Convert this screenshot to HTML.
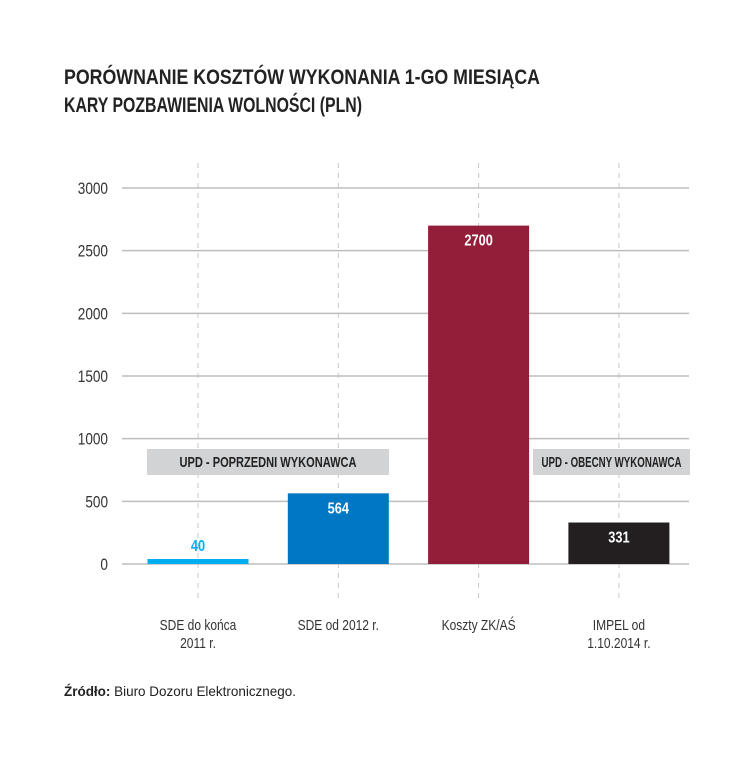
<!DOCTYPE html>
<html><head><meta charset="utf-8"><style>
body{margin:0;background:#fff;width:749px;height:760px;overflow:hidden;font-family:"Liberation Sans Narrow","Liberation Sans",sans-serif}
svg text{font-family:"Liberation Sans Narrow","Liberation Sans",sans-serif}
</style></head><body>
<svg width="749" height="760">
<text x="64" y="84" font-size="21" font-weight="bold" fill="#222" textLength="476" lengthAdjust="spacingAndGlyphs">PORÓWNANIE KOSZTÓW WYKONANIA 1-GO MIESIĄCA</text>
<text x="64" y="112" font-size="21" font-weight="bold" fill="#222" textLength="298" lengthAdjust="spacingAndGlyphs">KARY POZBAWIENIA WOLNOŚCI  (PLN)</text>
<g id="grid"></g><g id="bars"></g>
<text x="64" y="696" font-size="14" fill="#222" textLength="232" lengthAdjust="spacingAndGlyphs"><tspan font-weight="bold">Źródło:</tspan> Biuro Dozoru Elektronicznego.</text>
</svg>
<script>
const categories=[["SDE do końca","2011 r."],["SDE od 2012 r."],["Koszty ZK/AŚ"],["IMPEL od","1.10.2014 r."]];
const values=[40,564,2700,331];
const valueLabels=["40","564","2700","331"];
const barColors=["#00aeef","#0077c2","#921e39","#231f20"];
const ticks=[0,500,1000,1500,2000,2500,3000];
const NS="http://www.w3.org/2000/svg";
const y0=564,y1=188,yMax=3000;
const y=v=>y0-(y0-y1)*v/yMax;
const cx=i=>198+i*140.3;
const bw=101;
const SX=0.8;
const g=document.getElementById('grid'),b=document.getElementById('bars');
function mk(p,tag,a){const e=document.createElementNS(NS,tag);for(const k in a)e.setAttribute(k,a[k]);p.appendChild(e);return e;}
function txt(p,x,yy,s,a){const t=mk(p,'text',Object.assign({x:0,y:0,transform:`translate(${x},${yy}) scale(${SX},1)`},a));t.textContent=s;return t;}
categories.forEach((c,i)=>{
 const l=mk(g,'line',{x1:cx(i),x2:cx(i),y1:163,y2:603,stroke:'#c8c8c8','stroke-dasharray':'5,5'});
 
 
 c.forEach((s,j)=>{const t=txt(g,cx(i),630+j*18,s,{'font-size':15,'text-anchor':'middle',fill:'#333'});
 
 });
});
ticks.forEach(v=>{
 const l=mk(g,'line',{x1:122,x2:689,y1:y(v),y2:y(v),stroke:'#bdbdbd','stroke-width':1.5});
 
 
 const t=txt(g,108,y(v)+6,String(v),{'font-size':17,'text-anchor':'end',fill:'#333'});
 
 
});
[[147,389,"UPD - POPRZEDNI WYKONAWCA",177],[533,690,"UPD - OBECNY WYKONAWCA",140]].forEach(([a,z,s,w])=>{
 const r=mk(g,'rect',{x:a,y:449,width:z-a,height:26,fill:'#d2d3d5'});
 
 
 const t=mk(g,'text',{x:(a+z)/2,y:467,'font-size':15,'font-weight':'bold','text-anchor':'middle',fill:'#222',textLength:w,lengthAdjust:'spacingAndGlyphs'});t.textContent=s;
 
 
});
values.forEach((v,i)=>{
 const r=mk(b,'rect',{x:cx(i)-bw/2,y:y(v),width:bw,height:y0-y(v),fill:barColors[i]});
 
 
 const inside=(y0-y(v))>30;
 const t=txt(b,cx(i),inside?y(v)+20:y(v)-8,valueLabels[i],{'font-size':16,'font-weight':'bold','text-anchor':'middle',fill:inside?'#fff':barColors[i]});
 
 
});
</script>
</body></html>
